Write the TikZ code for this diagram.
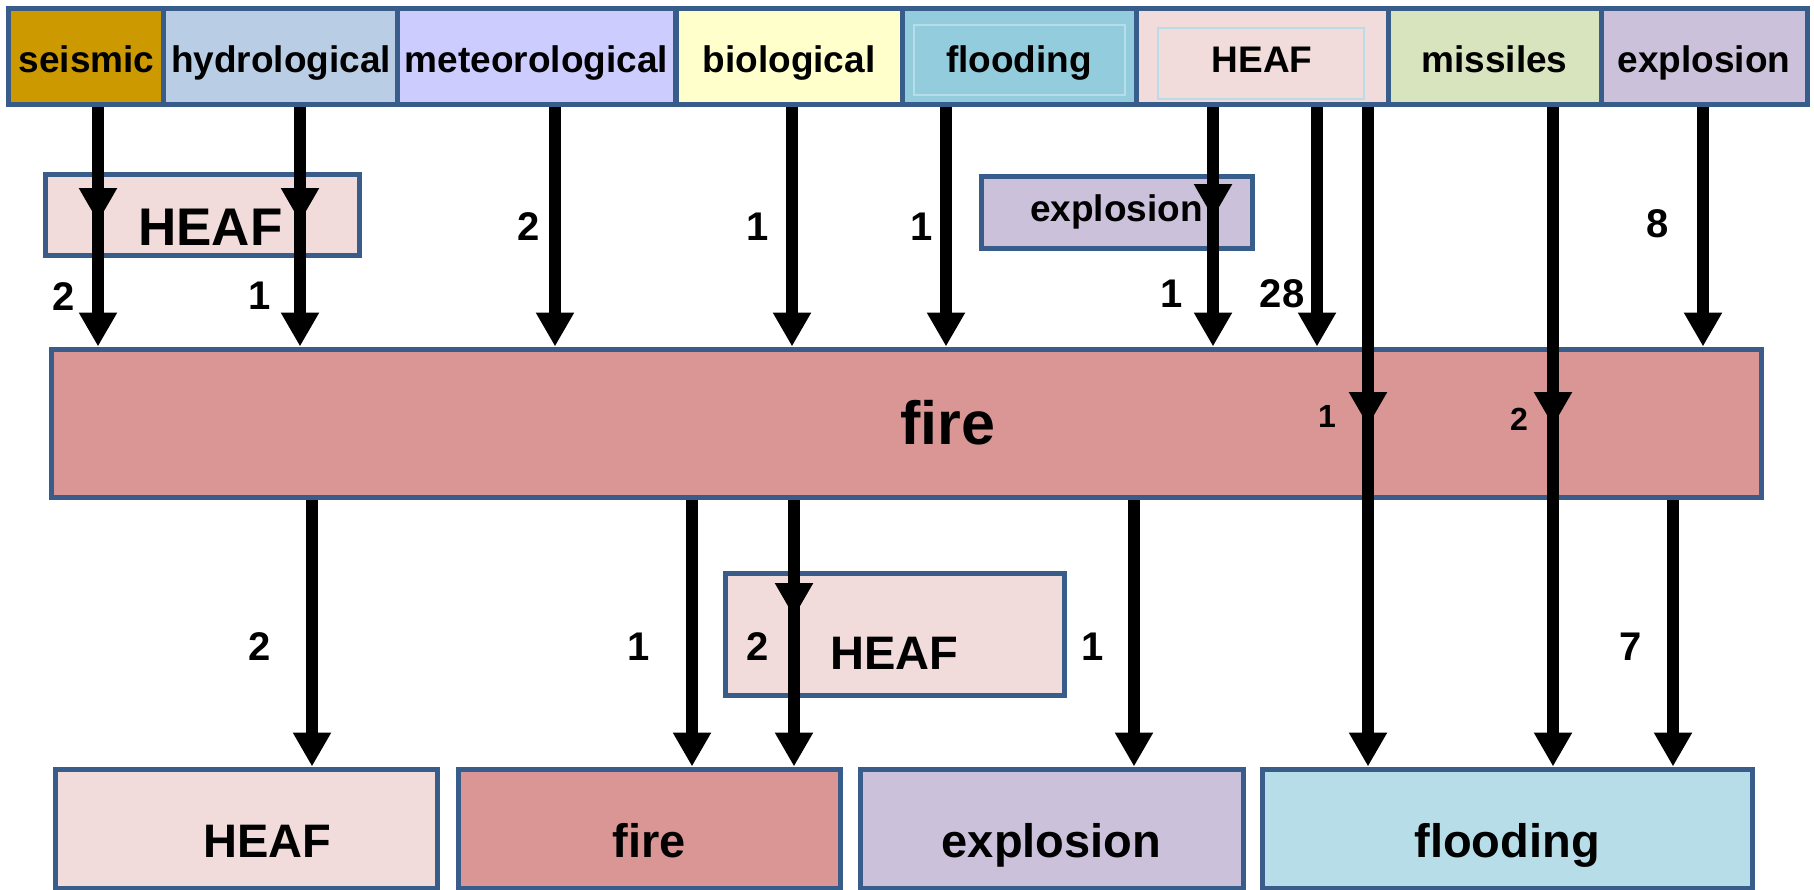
\documentclass[tikz,border=0pt]{standalone}
\usepackage{fontspec}
\setmainfont{Liberation Sans}
\usetikzlibrary{arrows.meta}

\definecolor{frameblue}{RGB}{56,93,138}
\definecolor{seismicc}{RGB}{204,153,0}
\definecolor{hydroc}{RGB}{185,205,229}
\definecolor{meteoc}{RGB}{204,204,255}
\definecolor{bioc}{RGB}{255,255,204}
\definecolor{floodc}{RGB}{147,205,221}
\definecolor{floodlc}{RGB}{183,222,232}
\definecolor{heafc}{RGB}{242,220,219}
\definecolor{missc}{RGB}{215,228,189}
\definecolor{explc}{RGB}{204,193,218}
\definecolor{firec}{RGB}{217,150,148}

\begin{document}
\begin{tikzpicture}[x=0.5bp, y=-0.5bp,
	box/.style={draw=frameblue, line width=2.5bp, inner sep=0pt,
		font=\bfseries\fontsize{18.5bp}{22bp}\selectfont},
	toprow/.style={box, minimum height=48bp, text height=16bp, text depth=0pt},
	botrow/.style={box, minimum height=59.5bp, text height=28.5bp, text depth=0pt,
		font=\bfseries\fontsize{23.5bp}{28bp}\selectfont},
	flow/.style={line width=6bp, -{Triangle[length=17bp,width=18bp]}},
	num/.style={inner sep=0pt, font=\bfseries\fontsize{20bp}{24bp}\selectfont},
	smallnum/.style={num, font=\bfseries\fontsize{16bp}{19bp}\selectfont},
	innerframe/.style={draw=floodlc, line width=1bp}]

	\useasboundingbox (0,0) rectangle (1814,890);

	% hazard sources
	\node[toprow, fill=seismicc, minimum width=77.5bp] (seismic) at (86.5,56) {seismic};
	\node[toprow, fill=hydroc, minimum width=117bp] (hydro) at (281,56) {hydrological};
	\node[toprow, fill=meteoc, minimum width=138.5bp] (meteo) at (536.5,56) {meteorological};
	\node[toprow, fill=bioc, minimum width=113bp] (bio) at (789,56) {biological};
	\node[toprow, fill=floodc, minimum width=117bp] (floodT) at (1019,56) {flooding};
	\node[toprow, fill=heafc, minimum width=126bp] (heafT) at (1262,56) {HEAF};
	\node[toprow, fill=missc, minimum width=106.5bp] (missiles) at (1494.5,56) {missiles};
	\node[toprow, fill=explc, minimum width=103bp] (explT) at (1704,56) {explosion};

	\draw[innerframe] ([xshift=7bp,yshift=-9.5bp]floodT.north west) rectangle ([xshift=-7bp,yshift=6bp]floodT.south east);
	\draw[innerframe] ([xshift=12bp,yshift=-11bp]heafT.north west) rectangle ([xshift=-13.5bp,yshift=4bp]heafT.south east);

	% intermediate events
	\node[box, fill=heafc, minimum width=156.5bp, minimum height=40.5bp, text height=30.5bp, text depth=0pt,
		font=\bfseries\fontsize{26.5bp}{30bp}\selectfont] (heafL) at (202.5,214.5) {\hspace{8bp}HEAF};
	\node[box, fill=explc, minimum width=135.5bp, minimum height=36bp] (explM) at (1116.5,212) {explosion\hspace{17bp}};
	\node[box, fill=firec, minimum width=854.5bp, minimum height=74bp,
		font=\bfseries\fontsize{30.5bp}{34bp}\selectfont] (fire) at (906.5,423) {\hspace{41bp}fire};
	\node[box, fill=heafc, minimum width=169.5bp, minimum height=61bp, text height=35bp, text depth=0pt,
		font=\bfseries\fontsize{23.5bp}{28bp}\selectfont] (heafM) at (894.5,634) {HEAF\hspace{9.5bp}};

	% consequences
	\node[botrow, fill=heafc, minimum width=190.5bp] (heafB) at (246.5,828.5) {\hspace{21bp}HEAF};
	\node[botrow, fill=firec, minimum width=190.5bp] (fireB) at (649.5,828.5) {fire};
	\node[botrow, fill=explc, minimum width=191.5bp] (explB) at (1051.5,828.5) {explosion};
	\node[botrow, fill=floodlc, minimum width=245bp] (floodB) at (1507,828.5) {flooding};

	\coordinate (v1) at (98,222);
	\coordinate (v2) at (300,222);
	\coordinate (c3) at (555,0);
	\coordinate (c4) at (792,0);
	\coordinate (c5) at (946,0);
	\coordinate (v6) at (1213,218);
	\coordinate (c7) at (1317,0);
	\coordinate (v8) at (1368,426);
	\coordinate (v9) at (1553,426);
	\coordinate (c10) at (1703,0);
	\coordinate (d1) at (312,0);
	\coordinate (d2) at (692,0);
	\coordinate (w3) at (794,617);
	\coordinate (d4) at (1134,0);
	\coordinate (d5) at (1673,0);

	% into fire
	\draw[flow] (seismic.south -| v1) -- (fire.north -| v1) node[num, pos=.79, xshift=-17bp] {2};
	\draw[flow] (seismic.south -| v1) -- (v1);
	\draw[flow] (hydro.south -| v2) -- (fire.north -| v2) node[num, pos=.79, xshift=-20bp] {1};
	\draw[flow] (hydro.south -| v2) -- (v2);
	\draw[flow] (meteo.south -| c3) -- (fire.north -| c3) node[num, pos=.5, xshift=-13bp] {2};
	\draw[flow] (bio.south -| c4) -- (fire.north -| c4) node[num, pos=.5, xshift=-17bp] {1};
	\draw[flow] (floodT.south -| c5) -- (fire.north -| c5) node[num, pos=.5, xshift=-12bp] {1};
	\draw[flow] (heafT.south -| v6) -- (fire.north -| v6) node[num, pos=.78, xshift=-20.5bp] {1};
	\draw[flow] (heafT.south -| v6) -- (v6);
	\draw[flow] (heafT.south -| c7) -- (fire.north -| c7) node[num, pos=.78, xshift=-17.5bp] {28};
	\draw[flow] (heafT.south -| v8) -- (floodB.north -| v8);
	\draw[flow] (heafT.south -| v8) -- (v8) node[smallnum, pos=.97, xshift=-20.5bp] {1};
	\draw[flow] (missiles.south -| v9) -- (floodB.north -| v9);
	\draw[flow] (missiles.south -| v9) -- (v9) node[smallnum, pos=.98, xshift=-17bp] {2};
	\draw[flow] (explT.south -| c10) -- (fire.north -| c10) node[num, pos=.49, xshift=-22.5bp] {8};

	% out of fire
	\draw[flow] (fire.south -| d1) -- (heafB.north -| d1) node[num, pos=.55, xshift=-26bp] {2};
	\draw[flow] (fire.south -| d2) -- (fireB.north -| d2) node[num, pos=.55, xshift=-26.5bp] {1};
	\draw[flow] (fire.south -| w3) -- (fireB.north -| w3) node[num, pos=.55, xshift=-18bp] {2};
	\draw[flow] (fire.south -| w3) -- (w3);
	\draw[flow] (fire.south -| d4) -- (explB.north -| d4) node[num, pos=.55, xshift=-20.5bp] {1};
	\draw[flow] (fire.south -| d5) -- (floodB.north -| d5) node[num, pos=.55, xshift=-21bp] {7};

\end{tikzpicture}
\end{document}
